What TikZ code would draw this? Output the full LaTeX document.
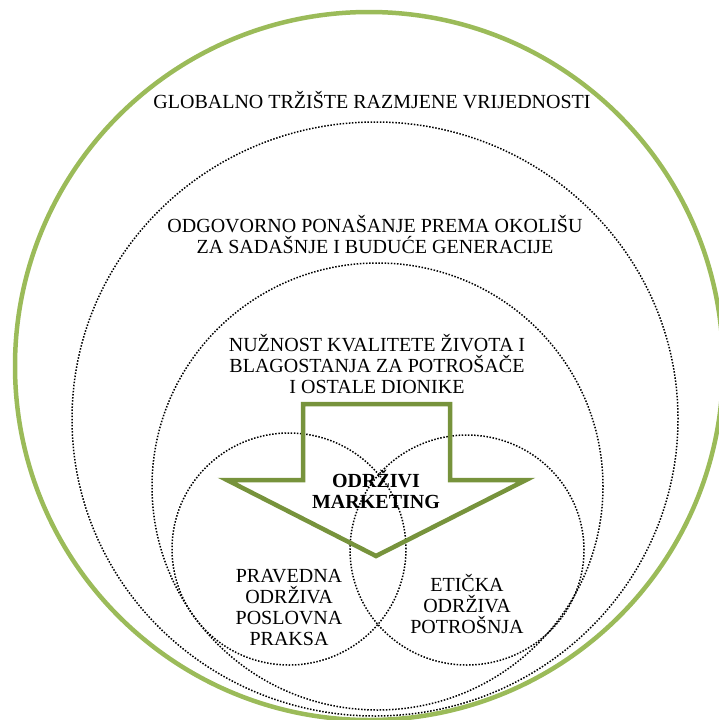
\documentclass[tikz,border=0pt]{standalone}
\usepackage{fontspec}
\setmainfont{Liberation Serif}
\definecolor{ringgreen}{HTML}{9BBB59}
\definecolor{arrowgreen}{HTML}{77933C}

\begin{document}
\begin{tikzpicture}[x=1pt,y=-1pt,
  dots/.style={black, line width=1.5pt, dash pattern=on 1.5pt off 1.6pt},
  txt/.style={align=center, inner sep=0pt, anchor=base, font=\fontsize{20}{21}\selectfont}]
\useasboundingbox (0,0) rectangle (719,720);

\draw[ringgreen, line width=4.5pt] (369,366) circle (354pt);
\draw[dots] (375,419) ellipse (303pt and 297pt);
\draw[dots] (377.5,486.5) ellipse (225.5pt and 223.5pt);
\draw[dots] (289,549) ellipse (117pt and 116pt);
\draw[dots] (467,550) ellipse (117pt and 115pt);

\draw[arrowgreen, line width=4.5pt] (303,404) -- (450,404) -- (450,480) -- (526,480)
  -- (376,556) -- (227,480) -- (303,480) -- cycle;

% base anchor sits on the last line
\node[txt] (0) at (372,108) {GLOBALNO TRŽIŠTE RAZMJENE VRIJEDNOSTI};
\node[txt] (1) at (375,253) {ODGOVORNO PONAŠANJE PREMA OKOLIŠU\\ZA SADAŠNJE I BUDUĆE GENERACIJE};
\node[txt] (2) at (377,393) {NUŽNOST KVALITETE ŽIVOTA I\\BLAGOSTANJA ZA POTROŠAČE\\I OSTALE DIONIKE};
\node[txt] (3) at (376,508) {\textbf{ODRŽIVI}\\\textbf{MARKETING}};
\node[txt] (4) at (289,645) {PRAVEDNA\\ODRŽIVA\\POSLOVNA\\PRAKSA};
\node[txt] (5) at (467,633) {ETIČKA\\ODRŽIVA\\POTROŠNJA};
\end{tikzpicture}
\end{document}
